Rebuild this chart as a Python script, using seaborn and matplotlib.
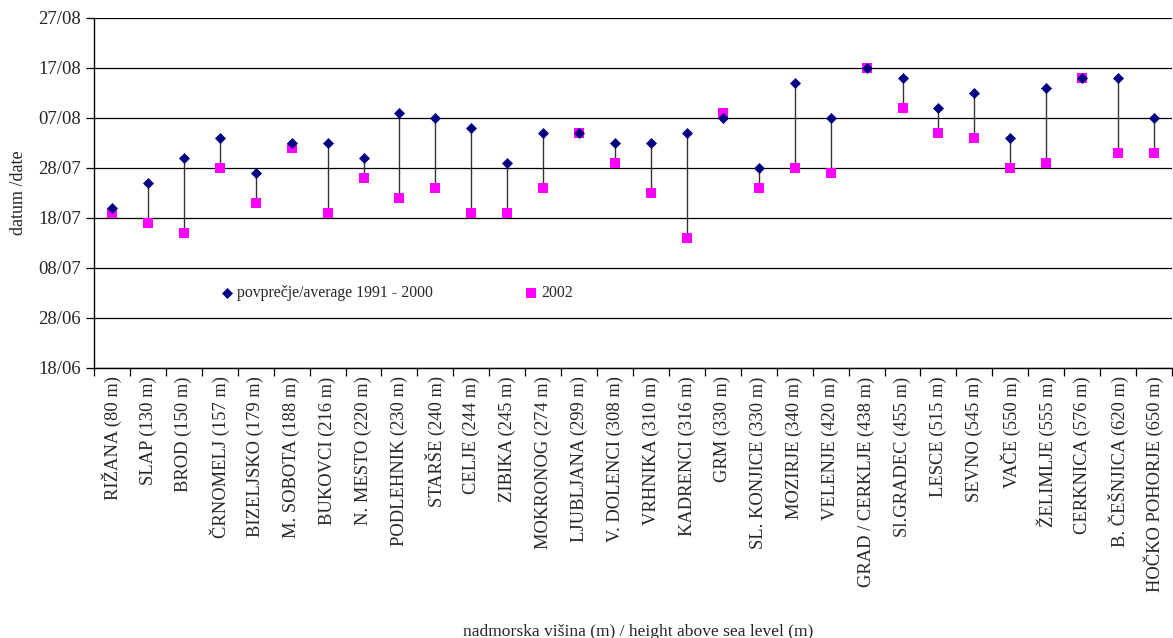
import matplotlib
matplotlib.use("Agg")
import matplotlib.pyplot as plt
import matplotlib.dates as mdates
import numpy as np
import pandas as pd
import seaborn as sns

# postaje / stations
stations = ["RIŽANA (80 m)", "SLAP (130 m)", "BROD (150 m)", "ČRNOMELJ (157 m)",
            "BIZELJSKO (179 m)", "M. SOBOTA (188 m)", "BUKOVCI (216 m)", "N. MESTO (220 m)",
            "PODLEHNIK (230 m)", "STARŠE (240 m)", "CELJE (244 m)", "ZIBIKA (245 m)",
            "MOKRONOG (274 m)", "LJUBLJANA (299 m)", "V. DOLENCI (308 m)", "VRHNIKA (310 m)",
            "KADRENCI (316 m)", "GRM (330 m)", "SL. KONJICE (330 m)", "MOZIRJE (340 m)",
            "VELENJE (420 m)", "GRAD / CERKLJE (438 m)", "Sl.GRADEC (455 m)", "LESCE (515 m)",
            "SEVNO (545 m)", "VAČE (550 m)", "ŽELIMLJE (555 m)", "CERKNICA (576 m)",
            "B. ČEŠNJICA (620 m)", "HOČKO POHORJE (650 m)"]

# povprecje 1991 - 2000
avg_dates = ["20/07", "25/07", "30/07", "03/08", "27/07", "02/08", "02/08", "30/07",
             "08/08", "07/08", "05/08", "29/07", "04/08", "04/08", "02/08", "02/08",
             "04/08", "07/08", "28/07", "14/08", "07/08", "17/08", "15/08", "09/08",
             "12/08", "03/08", "13/08", "15/08", "15/08", "07/08"]

# leto 2002
dates_2002 = ["19/07", "17/07", "15/07", "28/07", "21/07", "01/08", "19/07", "26/07",
              "22/07", "24/07", "19/07", "19/07", "24/07", "04/08", "29/07", "23/07",
              "14/07", "08/08", "24/07", "28/07", "27/07", "17/08", "09/08", "04/08",
              "03/08", "28/07", "29/07", "15/08", "31/07", "31/07"]

ytick_labels = ["18/06", "28/06", "08/07", "18/07", "28/07", "07/08", "17/08", "27/08"]


def to_date(lst):
    return pd.to_datetime([d + "/2002" for d in lst], format="%d/%m/%Y")


df = pd.DataFrame({"station": stations,
                   "avg": to_date(avg_dates),
                   "y2002": to_date(dates_2002)})

sns.set_style("white")
plt.rcParams["font.family"] = ["Liberation Serif", "DejaVu Serif"]

fig = plt.figure(figsize=(11.73, 6.38), dpi=100)
ax = fig.add_axes([94 / 1173, 1 - 368 / 638, 1 - 95 / 1173, 350 / 638])

ax.vlines(df["station"], df["avg"], df["y2002"], color="#333333", lw=1, zorder=2)
sns.scatterplot(data=df, x="station", y="avg", marker="D", s=26, color="#000080",
                edgecolor="#000080", linewidth=0.5, zorder=4, ax=ax,
                label="povprečje/average 1991 - 2000")
sns.scatterplot(data=df, x="station", y="y2002", marker="s", s=52, color="#FF00FF",
                edgecolor="#FF00FF", linewidth=0, zorder=3, ax=ax, label="2002")

# y os - datumi
yt = to_date(ytick_labels)
ax.set_ylim(yt[0], yt[-1])
ax.set_yticks(yt)
ax.yaxis.set_major_formatter(mdates.DateFormatter("%d/%m"))
ax.grid(axis="y", color="black", lw=0.9)
ax.set_axisbelow(True)

ax.set_xlim(-0.5, len(stations) - 0.5)
ax.set_xticks(np.arange(-0.5, len(stations), 1), minor=True)
ax.tick_params(axis="x", which="major", length=0, labelsize=13.3, rotation=90, pad=6)
ax.tick_params(axis="x", which="minor", length=6, width=0.9, direction="out", color="black", bottom=True)
ax.tick_params(axis="y", length=6, width=0.9, direction="out", color="black", labelsize=13.5, left=True)
for lab in ax.get_xticklabels():
    lab.set_va("top")

for s in ["top", "right"]:
    ax.spines[s].set_visible(False)
for s in ["left", "bottom"]:
    ax.spines[s].set_color("black")
    ax.spines[s].set_linewidth(1)

ax.set_xlabel("nadmorska višina (m) / height above sea level (m)", fontsize=12.6)
ax.set_ylabel("datum /date", fontsize=13)
ax.xaxis.set_label_coords(0.505, -0.73)
ax.yaxis.set_label_coords(-0.062, 0.5)

ax.legend(ncol=2, frameon=False, loc="center left", bbox_to_anchor=(0.112, 0.214),
          fontsize=11.3, handlelength=0.8, handletextpad=0.2, columnspacing=5.9,
          borderaxespad=0)

fig.savefig("out.png", dpi=100)
